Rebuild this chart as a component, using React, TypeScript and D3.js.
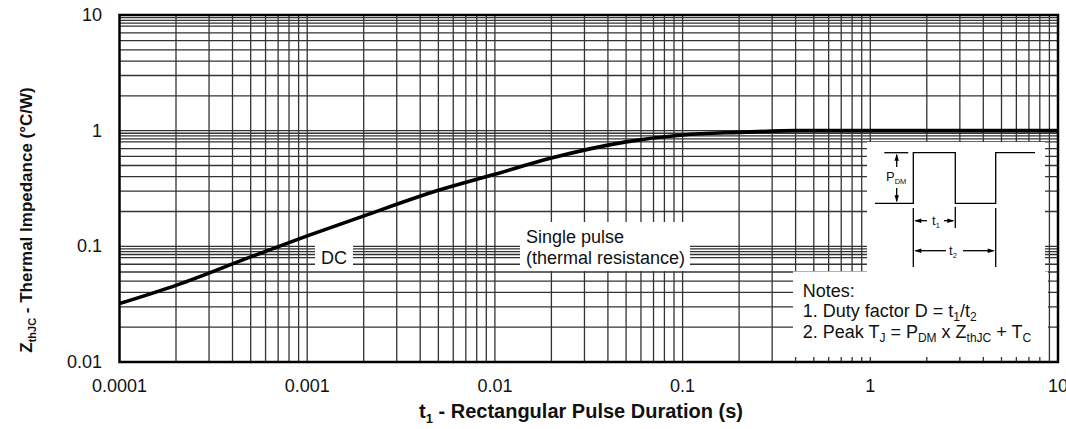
import React from "react";
import * as d3 from "d3";

// Transient thermal impedance curve (single pulse)
const pulseDuration = [0.0001, 0.0002, 0.0005, 0.001, 0.002, 0.005, 0.01, 0.02, 0.05, 0.1, 0.2, 0.4, 1, 10];
const thermalImpedance = [0.032, 0.046, 0.081, 0.123, 0.183, 0.305, 0.42, 0.58, 0.8, 0.918, 0.967, 1.0, 1.0, 1.0];

const xTickValues = [0.0001, 0.001, 0.01, 0.1, 1, 10];
const xTickLabels = ["0.0001", "0.001", "0.01", "0.1", "1", "10"];
const yTickValues = [10, 1, 0.1, 0.01];
const yTickLabels = ["10", "1", "0.1", "0.01"];

const xDecades = [0.0001, 0.001, 0.01, 0.1, 1];
const yDecades = [0.01, 0.1, 1];
const xMinorSteps = [2, 3, 4, 5, 6, 7, 8, 9];
const yMinorSteps = [2, 3, 4, 5, 6, 7, 8, 8.5, 9, 9.5];

const FONT = "'Liberation Sans', Arial, Helvetica, sans-serif";

export default function App() {
  const W = 1066;
  const H = 429;
  const left = 119.5;
  const right = 1058;
  const top = 15;
  const bottom = 362;

  const x = d3.scaleLog().domain([0.0001, 10]).range([left, right]);
  const y = d3.scaleLog().domain([0.01, 10]).range([bottom, top]);

  const xGrid = xDecades.flatMap((d) => xMinorSteps.map((k) => d * k)).concat(xTickValues.slice(1, -1));
  const yGrid = yDecades.flatMap((d) => yMinorSteps.map((k) => d * k)).concat(yTickValues.slice(1, -1));

  const points = pulseDuration.map((t, i) => ({ t, z: thermalImpedance[i] }));
  const line = d3
    .line<{ t: number; z: number }>()
    .x((d) => x(d.t))
    .y((d) => y(d.z))
    .curve(d3.curveMonotoneX);

  const gridColor = "#333";
  const arrow = (tipX: number, tipY: number, dir: "l" | "r" | "u" | "d") => {
    const L = 7;
    const h = 2.2;
    let pts: number[][] = [];
    if (dir === "l") pts = [[tipX, tipY], [tipX + L, tipY - h], [tipX + L, tipY + h]];
    if (dir === "r") pts = [[tipX, tipY], [tipX - L, tipY - h], [tipX - L, tipY + h]];
    if (dir === "u") pts = [[tipX, tipY], [tipX - h, tipY + L], [tipX + h, tipY + L]];
    if (dir === "d") pts = [[tipX, tipY], [tipX - h, tipY - L], [tipX + h, tipY - L]];
    return <polygon points={pts.map((p) => p.join(",")).join(" ")} fill="#000" />;
  };

  // waveform sketch geometry
  const lo = 203.3;
  const hi = 152.7;
  const e1 = 913.3;
  const e2 = 955.3;
  const e3 = 995.7;

  return (
    <svg
      width={W}
      height={H}
      style={{ position: "absolute", left: 0, top: 0, background: "#fff" }}
      fontFamily={FONT}
    >
      <rect x={0} y={0} width={W} height={H} fill="#fff" />
      <defs>
        <clipPath id="plot-clip">
          <rect x={left} y={top} width={right - left} height={bottom - top} />
        </clipPath>
      </defs>

      {/* grid */}
      <g stroke={gridColor} strokeWidth={1.3}>
        {xGrid.map((v, i) => (
          <line key={"gx" + i} x1={x(v)} x2={x(v)} y1={top} y2={bottom} />
        ))}
        {yGrid.map((v, i) => (
          <line key={"gy" + i} x1={left} x2={right} y1={y(v)} y2={y(v)} />
        ))}
      </g>

      {/* label backgrounds */}
      <g fill="#fff">
        <rect x={315} y={240} width={38} height={29} />
        <rect x={520} y={222} width={170} height={49} />
        <rect x={867} y={142} width={178} height={130} />
        <rect x={793} y={271.5} width={255} height={85.5} />
      </g>

      {/* impedance curve */}
      <path
        d={line(points) || ""}
        fill="none"
        stroke="#000"
        strokeWidth={3.6}
        clipPath="url(#plot-clip)"
      />

      {/* frame */}
      <rect x={left} y={top} width={right - left} height={bottom - top} fill="none" stroke="#000" strokeWidth={2.5} />

      {/* axis tick labels */}
      <g fontSize={18} fill="#111">
        {xTickValues.map((v, i) => (
          <text key={"xt" + i} x={x(v)} y={392} textAnchor="middle">
            {xTickLabels[i]}
          </text>
        ))}
        {yTickValues.map((v, i) => (
          <text key={"yt" + i} x={102} y={y(v) + 6} textAnchor="end">
            {yTickLabels[i]}
          </text>
        ))}
      </g>

      {/* axis titles */}
      <text x={581} y={418} textAnchor="middle" fontSize={20} fontWeight="bold" fill="#111">
        t<tspan fontSize={13} dy={5}>1</tspan>
        <tspan dy={-5}> - Rectangular Pulse Duration (s)</tspan>
      </text>
      <text
        transform="translate(31.5,220) rotate(-90)"
        textAnchor="middle"
        fontSize={17}
        fontWeight="bold"
        fill="#111"
      >
        Z<tspan fontSize={11} dy={4}>thJC</tspan>
        <tspan dy={-4}> - Thermal Impedance (°C/W)</tspan>
      </text>

      {/* annotations */}
      <g fontSize={18} fill="#111">
        <text x={334} y={263.5} textAnchor="middle">DC</text>
        <text x={526} y={243.3}>Single pulse</text>
        <text x={526} y={264.3}>(thermal resistance)</text>
        <text x={802.7} y={297.3}>Notes:</text>
        <text x={802.7} y={317}>
          1. Duty factor D = t<tspan fontSize={12} dy={4}>1</tspan>
          <tspan dy={-4}>/t</tspan>
          <tspan fontSize={12} dy={4}>2</tspan>
        </text>
        <text x={802.7} y={338}>
          2. Peak T<tspan fontSize={12} dy={4}>J</tspan>
          <tspan dy={-4}> = P</tspan>
          <tspan fontSize={12} dy={4}>DM</tspan>
          <tspan dy={-4}> x Z</tspan>
          <tspan fontSize={12} dy={4}>thJC</tspan>
          <tspan dy={-4}> + T</tspan>
          <tspan fontSize={12} dy={4}>C</tspan>
        </text>
      </g>

      {/* pulse train sketch */}
      <g stroke="#000" strokeWidth={1.3} fill="none">
        <line x1={884.3} x2={908.3} y1={hi} y2={hi} />
        <polyline
          points={[
            [875, lo], [e1, lo], [e1, hi], [e2, hi], [e2, lo], [e3, lo], [e3, hi], [1035, hi],
          ].map((p) => p.join(",")).join(" ")}
        />
        <line x1={896.7} x2={896.7} y1={hi + 2} y2={167} />
        <line x1={896.7} x2={896.7} y1={188} y2={lo - 2} />
        <line x1={e1} x2={e1} y1={208} y2={267} />
        <line x1={e2} x2={e2} y1={207} y2={228} />
        <line x1={e3} x2={e3} y1={208} y2={267} />
        <line x1={e1 + 2} x2={927} y1={220.7} y2={220.7} />
        <line x1={944} x2={e2 - 2} y1={220.7} y2={220.7} />
        <line x1={e1 + 2} x2={946} y1={250.7} y2={250.7} />
        <line x1={963} x2={e3 - 2} y1={250.7} y2={250.7} />
      </g>
      {arrow(896.7, hi + 1, "u")}
      {arrow(896.7, lo - 1, "d")}
      {arrow(e1 + 1, 220.7, "l")}
      {arrow(e2 - 1, 220.7, "r")}
      {arrow(e1 + 1, 250.7, "l")}
      {arrow(e3 - 1, 250.7, "r")}
      <g fill="#111">
        <text x={886} y={181} fontSize={13}>
          P<tspan fontSize={7.5} dy={3}>DM</tspan>
        </text>
        <text x={932} y={225} fontSize={13}>
          t<tspan fontSize={7.5} dy={3}>1</tspan>
        </text>
        <text x={949} y={255} fontSize={13}>
          t<tspan fontSize={7.5} dy={3}>2</tspan>
        </text>
      </g>
    </svg>
  );
}
